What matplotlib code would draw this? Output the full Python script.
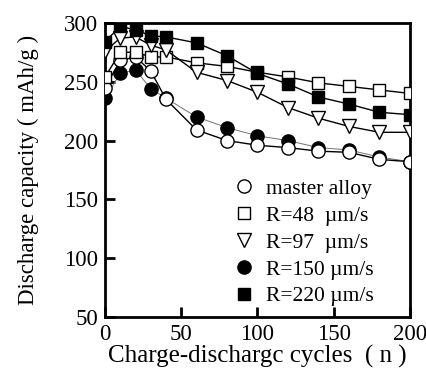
import matplotlib
matplotlib.use("Agg")
from matplotlib import pyplot as plt

# cycle numbers
cycles = [0, 10, 20, 30, 40, 60, 80, 100, 120, 140, 160, 180, 200]

# discharge capacity (mAh/g)
master_alloy = [245, 268, 271, 259, 235, 209, 200, 196, 194, 191, 190, 184, 182]
r48 = [254, 275, 275, 271, 271, 266, 263, 258, 254, 249, 246, 243, 240]
r97 = [276, 287, 288, 281, 277, 258, 251, 241, 228, 219, 212, 207, 207]
r150 = [236, 257, 260, 244, 236, 220, 211, 204, 200, 194, 192, 186, 182]
r220 = [284, 297, 294, 289, 288, 283, 272, 257, 248, 237, 231, 224, 222]

labels = ["master alloy", "R=48  µm/s", "R=97  µm/s", "R=150 µm/s", "R=220 µm/s"]

plt.rcParams["font.family"] = ["Liberation Serif", "DejaVu Serif"]

fig = plt.figure(figsize=(4.27, 3.74), dpi=100)
ax = fig.add_axes([0.246, 0.152, 0.714, 0.787])

ax.plot(cycles, r150, color="0.45", lw=0.7, marker="o", ms=9.5,
        mfc="black", mec="black", label=labels[3], zorder=2)
ax.plot(cycles, master_alloy, color="black", lw=1.0, marker="o", ms=9.5,
        mfc="white", mec="black", mew=1.0, label=labels[0], zorder=3)
ax.plot(cycles, r48, color="black", lw=1.0, marker="s", ms=9,
        mfc="white", mec="black", mew=1.0, label=labels[1], zorder=3)
ax.plot(cycles, r97, color="black", lw=1.0, marker="v", ms=9.5,
        mfc="white", mec="black", mew=1.0, label=labels[2], zorder=3)
ax.plot(cycles, r220, color="black", lw=1.0, marker="s", ms=9,
        mfc="black", mec="black", label=labels[4], zorder=4)

ax.set_xlim(0, 200)
ax.set_ylim(50, 300)
ax.set_xticks([0, 50, 100, 150, 200])
ax.set_yticks([50, 100, 150, 200, 250, 300])
ax.tick_params(direction="in", length=7, width=2, labelsize=16.5,
               top=False, right=False, pad=5)
for s in ax.spines.values():
    s.set_linewidth(2)

ax.set_xlabel("Charge-dischargc cycles  ( n )", fontsize=18, labelpad=0)
ax.set_ylabel("Discharge capacity ( mAh/g )", fontsize=16.5, labelpad=18)

h, l = ax.get_legend_handles_labels()
order = [1, 2, 3, 0, 4]
leg = ax.legend([h[i] for i in order], [l[i] for i in order],
                loc="lower right", bbox_to_anchor=(0.93, -0.015), frameon=False,
                fontsize=15.5, handlelength=0.8, handletextpad=0.6,
                labelspacing=0.32, borderaxespad=0.3)
for lh in leg.legend_handles:
    lh.set_linestyle("none")

fig.savefig("out.png", dpi=100)
